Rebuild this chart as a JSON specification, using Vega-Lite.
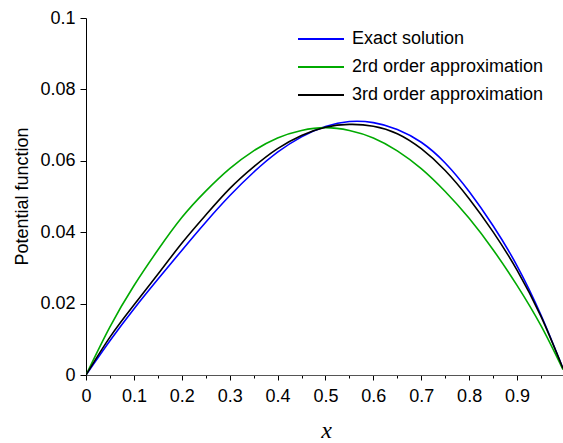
{
  "$schema": "https://vega.github.io/schema/vega-lite/v6.json",
  "width": 477,
  "height": 357,
  "autosize": {"type": "none"},
  "padding": {"left": 86, "top": 18, "right": 0, "bottom": 68},
  "background": "white",
  "config": {
    "view": {"stroke": null},
    "font": "Liberation Sans",
    "axis": {"labelFont": "Liberation Sans", "labelFontSize": 18, "labelColor": "#000", "grid": false, "domainColor": "#000", "tickColor": "#000"}
  },
  "datasets": {
    "curves": [
      {"series": "Exact solution", "x": 0, "y": 0},
      {"series": "Exact solution", "x": 0.05, "y": 0.0096},
      {"series": "Exact solution", "x": 0.1, "y": 0.0185},
      {"series": "Exact solution", "x": 0.15, "y": 0.0268},
      {"series": "Exact solution", "x": 0.2, "y": 0.0349},
      {"series": "Exact solution", "x": 0.25, "y": 0.0428},
      {"series": "Exact solution", "x": 0.3, "y": 0.0502},
      {"series": "Exact solution", "x": 0.35, "y": 0.0568},
      {"series": "Exact solution", "x": 0.4, "y": 0.0624},
      {"series": "Exact solution", "x": 0.45, "y": 0.0667},
      {"series": "Exact solution", "x": 0.5, "y": 0.0696},
      {"series": "Exact solution", "x": 0.55, "y": 0.071},
      {"series": "Exact solution", "x": 0.6, "y": 0.0707},
      {"series": "Exact solution", "x": 0.65, "y": 0.0688},
      {"series": "Exact solution", "x": 0.7, "y": 0.0652},
      {"series": "Exact solution", "x": 0.75, "y": 0.0594},
      {"series": "Exact solution", "x": 0.8, "y": 0.0514},
      {"series": "Exact solution", "x": 0.85, "y": 0.0418},
      {"series": "Exact solution", "x": 0.9, "y": 0.0306},
      {"series": "Exact solution", "x": 0.95, "y": 0.0168},
      {"series": "Exact solution", "x": 0.996, "y": 0.0018},
      {"series": "2rd order approximation", "x": 0, "y": 0},
      {"series": "2rd order approximation", "x": 0.05, "y": 0.0135},
      {"series": "2rd order approximation", "x": 0.1, "y": 0.025},
      {"series": "2rd order approximation", "x": 0.15, "y": 0.035},
      {"series": "2rd order approximation", "x": 0.2, "y": 0.0441},
      {"series": "2rd order approximation", "x": 0.25, "y": 0.0515},
      {"series": "2rd order approximation", "x": 0.3, "y": 0.0578},
      {"series": "2rd order approximation", "x": 0.35, "y": 0.0628},
      {"series": "2rd order approximation", "x": 0.4, "y": 0.0664},
      {"series": "2rd order approximation", "x": 0.45, "y": 0.0685},
      {"series": "2rd order approximation", "x": 0.5, "y": 0.0693},
      {"series": "2rd order approximation", "x": 0.55, "y": 0.0685},
      {"series": "2rd order approximation", "x": 0.6, "y": 0.0664},
      {"series": "2rd order approximation", "x": 0.65, "y": 0.0628},
      {"series": "2rd order approximation", "x": 0.7, "y": 0.0578},
      {"series": "2rd order approximation", "x": 0.75, "y": 0.0514},
      {"series": "2rd order approximation", "x": 0.8, "y": 0.0439},
      {"series": "2rd order approximation", "x": 0.85, "y": 0.0351},
      {"series": "2rd order approximation", "x": 0.9, "y": 0.0251},
      {"series": "2rd order approximation", "x": 0.95, "y": 0.0138},
      {"series": "2rd order approximation", "x": 0.996, "y": 0.0015},
      {"series": "3rd order approximation", "x": 0, "y": 0},
      {"series": "3rd order approximation", "x": 0.05, "y": 0.0106},
      {"series": "3rd order approximation", "x": 0.1, "y": 0.0196},
      {"series": "3rd order approximation", "x": 0.15, "y": 0.0282},
      {"series": "3rd order approximation", "x": 0.2, "y": 0.0369},
      {"series": "3rd order approximation", "x": 0.25, "y": 0.0448},
      {"series": "3rd order approximation", "x": 0.3, "y": 0.0522},
      {"series": "3rd order approximation", "x": 0.35, "y": 0.0583},
      {"series": "3rd order approximation", "x": 0.4, "y": 0.0634},
      {"series": "3rd order approximation", "x": 0.45, "y": 0.0671},
      {"series": "3rd order approximation", "x": 0.5, "y": 0.0694},
      {"series": "3rd order approximation", "x": 0.55, "y": 0.0702},
      {"series": "3rd order approximation", "x": 0.6, "y": 0.0697},
      {"series": "3rd order approximation", "x": 0.65, "y": 0.0676},
      {"series": "3rd order approximation", "x": 0.7, "y": 0.0634},
      {"series": "3rd order approximation", "x": 0.75, "y": 0.0573},
      {"series": "3rd order approximation", "x": 0.8, "y": 0.0494},
      {"series": "3rd order approximation", "x": 0.85, "y": 0.0401},
      {"series": "3rd order approximation", "x": 0.9, "y": 0.0294},
      {"series": "3rd order approximation", "x": 0.95, "y": 0.0164},
      {"series": "3rd order approximation", "x": 0.996, "y": 0.0018}
    ]
  },
  "layer": [
    {
      "mark": {"type": "rule", "color": "#000", "strokeWidth": 1},
      "encoding": {"y": {"datum": 0.1, "type": "quantitative"}}
    },
    {
      "data": {"name": "curves"},
      "mark": {"type": "line", "strokeWidth": 1.6, "interpolate": "natural", "clip": true},
      "encoding": {
        "x": {
          "field": "x", "type": "quantitative",
          "scale": {"domain": [0, 0.996], "nice": false, "zero": false},
          "axis": {
            "values": [0, 0.05, 0.1, 0.15, 0.2, 0.25, 0.3, 0.35, 0.4, 0.45, 0.5, 0.55, 0.6, 0.65, 0.7, 0.75, 0.8, 0.85, 0.9, 0.95],
            "format": "~g",
            "labelExpr": "round(datum.value*100) % 10 == 0 ? datum.label : ''",
            "tickSize": {"condition": {"test": "round(datum.value*100) % 10 == 0", "value": 5}, "value": 3},
            "labelPadding": 7,
            "labelFlush": false,
            "labelOverlap": false,
            "domainColor": "#555",
            "title": "x",
            "titleFont": "Liberation Serif",
            "titleFontStyle": "italic",
            "titleFontWeight": "normal",
            "titleFontSize": 24,
            "titleBaseline": "alphabetic",
            "titleY": 62,
            "titleX": 240
          }
        },
        "y": {
          "field": "y", "type": "quantitative",
          "scale": {"domain": [0, 0.1], "nice": false},
          "axis": {
            "values": [0, 0.01, 0.02, 0.03, 0.04, 0.05, 0.06, 0.07, 0.08, 0.09, 0.1],
            "format": "~g",
            "labelExpr": "round(datum.value*1000) % 20 == 0 ? datum.label : ''",
            "tickSize": {"condition": {"test": "round(datum.value*1000) % 20 == 0", "value": 6}, "value": 3},
            "labelPadding": 5,
            "labelFlush": false,
            "labelOverlap": false,
            "title": "Potential function",
            "titleFont": "Liberation Sans",
            "titleFontWeight": "normal",
            "titleFontSize": 18,
            "titleAngle": -90,
            "titleAlign": "center",
            "titleBaseline": "alphabetic",
            "titleX": -59,
            "titleY": 178
          }
        },
        "color": {
          "field": "series", "type": "nominal",
          "scale": {"domain": ["Exact solution", "2rd order approximation", "3rd order approximation"], "range": ["#0000ff", "#00aa00", "#000000"]},
          "legend": {
            "orient": "none",
            "legendX": 211,
            "legendY": 7,
            "title": null,
            "padding": 0,
            "symbolType": "stroke",
            "symbolSize": 2116,
            "symbolStrokeWidth": 2,
            "labelFont": "Liberation Sans",
            "labelFontSize": 18,
            "labelColor": "#000",
            "labelOffset": 7,
            "labelLimit": 400,
            "clipHeight": 28,
            "rowPadding": 0
          }
        }
      }
    }
  ]
}
